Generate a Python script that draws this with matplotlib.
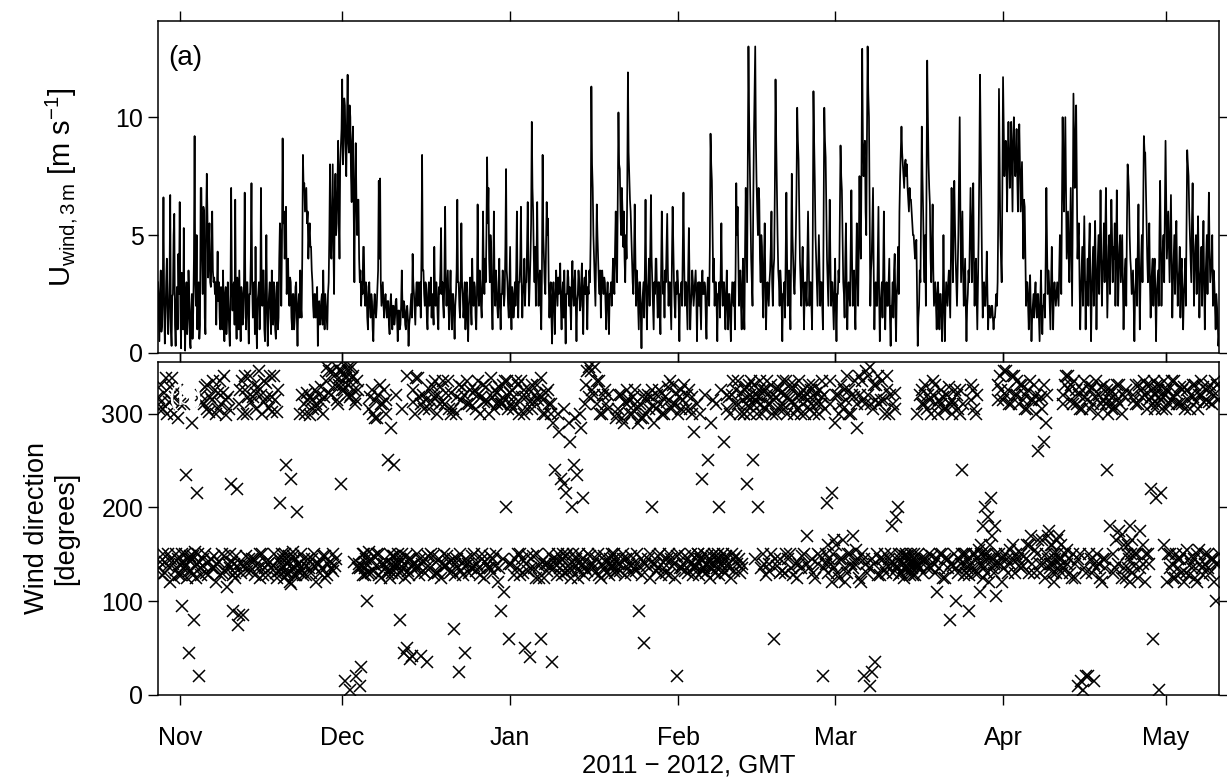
import numpy as np
import pandas as pd
import matplotlib
matplotlib.use("Agg")
import matplotlib.pyplot as plt
import matplotlib.dates as mdates


# first sample of the record, 3-hourly values after that
start = "2011-10-28 00:00"

# wind speed at 3 m [m/s], one row per day (00, 03, ... 21 GMT)
wind_speed = [
    [3.0, 1.8, 0.5, 2.6, 3.5, 0.9, 1.2, 2.8], [6.6, 2.2, 0.4, 1.5, 3.0, 4.0, 2.0, 0.8],  # Oct 28-29
    [1.5, 3.2, 6.7, 1.0, 0.3, 2.4, 2.5, 5.0], [5.9, 1.2, 0.3, 2.0, 2.8, 1.0, 4.2, 2.5],
    [6.4, 2.0, 0.2, 3.4, 2.5, 1.0, 5.3, 1.5], [0.1, 2.2, 3.0, 0.8, 1.5, 3.5, 2.5, 0.5],  # Nov 1-2
    [0.2, 1.8, 2.5, 0.6, 1.8, 4.0, 9.2, 3.0], [2.0, 5.0, 1.0, 2.8, 3.0, 0.6, 1.2, 7.0],
    [7.0, 4.0, 2.5, 6.2, 6.0, 1.5, 0.8, 5.5], [7.6, 5.8, 3.2, 4.5, 5.5, 3.0, 2.8, 4.0],
    [6.0, 3.5, 3.0, 3.2, 2.5, 3.0, 1.2, 2.8], [4.3, 2.2, 3.0, 1.5, 1.0, 2.8, 2.5, 1.0],
    [3.5, 1.8, 0.5, 2.5, 2.8, 0.8, 1.5, 3.0], [2.0, 1.0, 0.3, 2.5, 7.0, 3.0, 1.8, 2.8],
    [3.0, 1.2, 6.5, 2.0, 0.6, 3.2, 2.5, 1.0], [3.5, 2.0, 0.5, 2.8, 2.5, 1.2, 1.5, 3.2],
    [6.8, 2.5, 1.0, 3.0, 3.0, 1.5, 0.4, 2.5], [2.5, 4.0, 7.2, 3.0, 1.5, 2.8, 3.0, 0.8],
    [4.5, 1.5, 0.2, 2.2, 2.5, 3.0, 1.0, 2.0], [7.0, 3.0, 2.0, 3.5, 3.5, 1.0, 0.5, 2.5],
    [5.0, 2.0, 0.3, 1.8, 2.5, 3.0, 1.5, 0.8], [3.5, 2.0, 1.2, 3.0, 2.5, 1.0, 0.6, 2.8],
    [3.0, 1.0, 1.5, 4.0, 5.5, 5.0, 2.0, 4.5], [9.1, 5.5, 6.0, 4.0, 5.0, 6.2, 2.5, 3.5],
    [4.0, 2.5, 2.0, 3.2, 3.0, 1.5, 1.0, 2.5], [2.5, 1.0, 1.5, 2.8, 3.0, 1.5, 0.3, 2.0],
    [2.5, 1.5, 3.5, 2.0, 1.5, 4.0, 8.4, 7.0], [7.2, 6.0, 6.5, 7.0, 5.5, 6.0, 4.0, 5.0],
    [5.5, 4.5, 4.5, 3.5, 3.0, 2.0, 1.5, 2.5], [2.5, 1.5, 2.0, 2.8, 0.3, 1.8, 2.2, 1.2],
    [1.5, 2.2, 2.5, 1.2, 3.5, 2.0, 1.0, 2.5], [2.0, 1.5, 1.0, 2.5, 3.0, 5.0, 8.0, 4.5],
    [4.0, 6.0, 8.0, 4.5, 2.5, 6.5, 7.6, 5.0], [5.5, 7.0, 9.0, 6.0, 4.0, 8.0, 8.8, 9.5],  # Nov 29-30
    [11.6, 8.0, 9.0, 10.8, 10.5, 8.5, 7.5, 9.5], [11.8, 9.0, 8.5, 10.5, 10.0, 7.5, 6.4, 9.0],  # Dec 1-2
    [9.6, 6.0, 3.0, 7.0, 8.9, 6.5, 5.0, 6.5], [6.5, 4.0, 3.0, 3.5, 2.0, 3.0, 2.5, 4.5],
    [4.5, 2.5, 2.0, 3.0, 2.8, 1.5, 1.0, 2.5], [3.0, 2.0, 1.5, 2.5, 2.2, 1.0, 0.5, 2.0],
    [2.5, 1.8, 1.5, 2.0, 2.8, 3.5, 7.3, 4.0], [7.4, 3.0, 2.0, 2.5, 3.0, 2.0, 1.5, 2.2],
    [2.5, 2.0, 1.5, 2.2, 2.2, 1.2, 0.8, 2.0], [2.5, 1.8, 1.0, 2.0, 2.0, 1.2, 1.5, 2.2],
    [2.3, 1.5, 0.5, 1.8, 1.8, 1.0, 1.2, 2.0], [3.5, 2.0, 1.5, 2.2, 2.0, 1.2, 1.0, 1.8],
    [2.0, 1.5, 0.3, 1.2, 1.5, 2.0, 2.5, 1.5], [4.2, 3.0, 2.5, 1.8, 1.2, 2.5, 3.0, 2.0],
    [3.0, 2.2, 2.0, 3.0, 1.5, 4.0, 8.4, 3.5], [3.5, 2.5, 2.0, 3.0, 2.8, 1.5, 1.0, 2.5],
    [3.0, 2.0, 2.5, 3.2, 1.5, 2.5, 2.0, 1.2], [4.5, 2.5, 2.0, 3.0, 2.5, 1.5, 1.0, 2.8],
    [2.5, 3.5, 5.3, 2.5, 3.0, 2.0, 1.5, 3.5], [6.2, 3.0, 2.0, 2.8, 3.5, 2.0, 1.0, 2.5],
    [3.5, 2.0, 1.0, 2.5, 2.5, 1.5, 0.6, 2.0], [2.5, 3.5, 6.5, 3.0, 3.0, 2.0, 1.5, 3.0],
    [5.5, 3.0, 2.5, 1.5, 2.0, 3.0, 1.0, 2.5], [3.0, 1.5, 0.5, 2.0, 2.5, 3.2, 2.0, 1.2],
    [4.0, 2.5, 2.0, 3.0, 2.8, 1.5, 1.0, 2.5], [6.3, 3.0, 2.0, 3.5, 3.0, 2.0, 1.5, 3.0],
    [6.0, 3.5, 2.5, 4.0, 3.0, 5.0, 8.3, 5.5], [7.0, 4.0, 3.0, 5.0, 4.5, 2.0, 1.0, 3.0],
    [6.0, 3.0, 2.0, 3.5, 3.0, 2.0, 1.5, 2.5], [4.0, 2.0, 1.0, 2.5, 2.5, 3.5, 3.0, 2.0],
    [2.5, 4.5, 7.8, 3.5, 3.0, 2.0, 1.5, 3.0],                                              # Dec 31
    [4.5, 2.0, 1.0, 2.8, 2.5, 1.5, 2.0, 3.0], [2.0, 3.5, 6.0, 2.5, 1.5, 3.0, 3.0, 4.0],  # Jan 1-2
    [6.2, 3.0, 1.5, 2.5, 3.0, 4.0, 2.0, 3.0], [3.0, 4.5, 6.4, 3.5, 2.0, 3.0, 4.0, 5.5],
    [9.8, 7.0, 6.0, 4.0, 3.0, 4.5, 2.0, 4.0], [6.4, 3.5, 2.0, 3.0, 3.5, 2.0, 1.0, 3.5],
    [8.4, 5.0, 4.0, 3.0, 2.5, 4.5, 6.4, 5.0], [5.7, 3.0, 1.5, 2.5, 3.0, 1.5, 0.4, 2.5],
    [3.0, 2.0, 0.8, 2.5, 3.5, 2.8, 2.0, 3.2], [2.5, 3.0, 3.8, 2.0, 1.0, 2.5, 3.0, 1.5],
    [3.5, 2.0, 0.4, 2.5, 2.5, 3.5, 3.2, 2.0], [2.8, 2.0, 1.0, 3.0, 3.9, 2.5, 2.0, 3.0],
    [3.5, 2.0, 0.5, 2.2, 2.5, 3.5, 3.0, 1.8], [2.0, 3.0, 3.8, 2.0, 0.8, 2.8, 3.2, 2.5],
    [3.5, 2.5, 1.0, 2.8, 2.5, 3.5, 3.0, 5.0], [11.3, 8.0, 7.0, 5.0, 4.0, 3.0, 2.0, 4.0],
    [6.3, 5.0, 4.0, 3.0, 2.5, 3.5, 1.5, 3.0], [3.5, 3.0, 2.5, 3.2, 3.0, 2.0, 1.0, 2.5],
    [3.0, 2.0, 0.8, 2.5, 2.5, 3.0, 2.0, 3.0], [4.0, 3.0, 2.5, 4.5, 6.0, 4.0, 3.0, 6.5],
    [10.2, 8.0, 7.8, 6.0, 5.0, 7.0, 6.0, 4.5], [6.0, 4.0, 3.0, 5.0, 4.0, 7.0, 11.9, 8.5],
    [7.5, 6.5, 6.0, 5.0, 4.0, 3.0, 2.5, 4.0], [6.3, 4.0, 2.0, 3.5, 3.0, 2.0, 1.0, 3.0],
    [3.0, 1.5, 0.2, 2.0, 2.5, 3.0, 1.5, 3.5], [6.5, 3.0, 1.0, 2.5, 3.0, 4.0, 2.0, 4.5],
    [6.7, 4.0, 3.0, 2.0, 1.0, 3.0, 2.5, 4.0], [4.0, 2.5, 1.5, 3.0, 3.0, 2.0, 0.8, 3.5],
    [6.0, 4.0, 2.5, 3.0, 1.5, 3.5, 3.0, 4.5], [5.9, 3.5, 2.0, 3.0, 3.0, 2.0, 1.0, 4.0],
    [6.2, 4.5, 3.0, 2.0, 1.5, 3.0, 2.5, 3.5],                                              # Jan 31
    [3.0, 2.0, 0.5, 2.5, 2.5, 3.0, 2.0, 4.5], [6.8, 4.0, 2.0, 3.0, 3.0, 2.0, 1.0, 3.5],  # Feb 1-2
    [5.3, 3.0, 1.0, 2.0, 2.5, 3.5, 3.0, 2.0], [2.5, 3.0, 3.5, 2.5, 0.5, 2.5, 3.0, 2.0],
    [3.0, 2.0, 1.0, 2.8, 3.5, 2.5, 2.5, 3.0], [2.8, 1.5, 0.6, 2.5, 3.2, 2.5, 2.0, 4.5],
    [9.3, 8.0, 7.3, 5.0, 3.0, 4.0, 2.0, 3.0], [3.0, 2.0, 0.5, 2.5, 2.5, 3.0, 1.5, 3.5],
    [5.5, 3.0, 2.0, 3.0, 3.0, 2.0, 1.0, 2.5], [3.5, 2.0, 1.0, 2.5, 2.5, 1.5, 0.5, 2.0],
    [3.0, 2.5, 2.0, 3.0, 1.0, 3.5, 7.2, 5.0], [6.2, 4.0, 2.0, 3.0, 3.5, 2.0, 1.0, 3.0],
    [4.0, 2.0, 1.0, 4.5, 7.0, 5.0, 3.0, 8.0], [13.0, 10.0, 8.0, 6.0, 4.0, 3.0, 2.0, 6.0],
    [9.0, 11.0, 13.0, 9.0, 7.2, 6.0, 5.0, 7.0], [6.5, 4.0, 3.0, 5.0, 4.5, 2.5, 1.5, 4.0],
    [5.5, 3.0, 1.0, 2.5, 3.0, 2.5, 2.0, 3.0], [3.5, 4.5, 6.0, 3.0, 2.0, 3.5, 4.0, 7.0],
    [11.6, 9.0, 7.0, 5.0, 3.5, 3.0, 2.0, 3.5], [3.0, 2.0, 0.5, 2.5, 2.5, 3.0, 1.5, 4.0],
    [6.8, 4.0, 2.0, 3.0, 3.5, 2.5, 1.0, 4.0], [7.6, 5.0, 4.0, 3.0, 2.5, 3.5, 5.0, 7.0],
    [10.4, 9.0, 8.2, 6.0, 4.0, 3.0, 2.0, 3.5], [4.5, 3.0, 1.0, 2.5, 3.0, 2.5, 2.0, 4.0],
    [6.0, 4.0, 2.0, 3.0, 3.0, 2.0, 1.0, 5.0], [11.1, 9.0, 7.3, 5.0, 4.0, 3.0, 2.0, 3.5],
    [5.0, 3.5, 2.0, 3.0, 3.0, 2.0, 1.0, 5.5], [10.4, 9.0, 8.3, 6.0, 4.0, 3.0, 2.0, 4.0],
    [6.5, 4.0, 2.0, 3.0, 3.0, 2.0, 1.0, 2.5],                                              # Feb 29
    [4.0, 2.0, 0.5, 2.5, 2.5, 3.5, 3.0, 6.0], [8.8, 7.5, 6.9, 5.0, 3.0, 2.5, 1.5, 4.0],  # Mar 1-2
    [5.5, 3.0, 1.0, 2.5, 3.0, 2.5, 2.0, 4.5], [6.9, 4.0, 2.0, 3.0, 3.5, 2.0, 1.0, 3.5],
    [5.5, 3.5, 2.0, 4.5, 7.5, 5.0, 4.0, 8.0], [12.9, 9.0, 7.5, 8.5, 9.0, 6.0, 5.0, 9.0],
    [13.0, 11.0, 10.0, 6.0, 2.0, 3.5, 4.0, 5.5], [7.0, 3.5, 1.0, 2.5, 3.0, 2.0, 2.0, 4.0],
    [6.2, 2.5, 0.5, 2.0, 2.5, 3.0, 1.5, 3.5], [6.0, 3.0, 1.0, 2.5, 3.0, 2.0, 2.0, 3.0],
    [4.0, 1.5, 0.3, 2.0, 2.0, 3.0, 1.5, 3.5], [4.2, 2.0, 0.5, 2.5, 3.0, 4.5, 2.5, 6.0],
    [7.5, 8.5, 9.6, 8.5, 8.0, 7.5, 7.0, 8.0], [8.2, 7.5, 8.0, 7.0, 6.5, 6.0, 7.0, 6.5],
    [6.5, 6.0, 5.5, 5.0, 5.0, 4.5, 4.0, 4.5], [4.8, 2.5, 0.3, 1.5, 2.0, 3.5, 3.0, 6.0],
    [9.6, 7.5, 6.0, 4.0, 3.0, 5.0, 2.0, 7.0], [12.4, 10.0, 8.0, 7.0, 6.3, 4.0, 3.0, 4.5],
    [6.3, 3.5, 2.0, 2.5, 3.0, 2.0, 1.0, 2.5], [3.0, 2.0, 1.0, 2.5, 2.5, 1.5, 0.5, 2.0],
    [5.0, 2.5, 0.5, 2.0, 3.0, 2.5, 2.0, 3.0], [3.5, 2.5, 1.5, 4.0, 7.0, 5.0, 3.0, 5.5],
    [7.3, 5.5, 4.0, 3.0, 2.0, 3.5, 5.0, 7.5], [10.0, 6.0, 3.0, 4.5, 6.0, 3.5, 2.0, 3.0],
    [4.0, 2.0, 0.5, 2.0, 2.5, 3.5, 3.0, 5.0], [7.0, 5.0, 3.0, 5.5, 7.2, 4.0, 2.0, 3.5],
    [4.0, 2.5, 1.0, 3.0, 5.0, 8.0, 11.8, 9.0], [6.0, 3.5, 1.5, 2.5, 3.0, 2.0, 2.0, 3.0],
    [4.3, 2.5, 1.0, 2.0, 2.0, 1.5, 1.5, 2.0], [2.0, 1.5, 1.0, 1.5, 1.5, 2.0, 2.5, 2.0],
    [3.0, 6.0, 11.2, 8.0, 5.0, 4.0, 3.0, 7.0],                                             # Mar 31
    [11.7, 9.5, 7.5, 8.5, 9.0, 8.0, 6.0, 8.5], [9.8, 8.5, 7.0, 8.0, 9.8, 8.0, 6.0, 9.0],  # Apr 1-2
    [10.0, 8.5, 7.5, 8.0, 9.5, 7.5, 6.0, 8.5], [9.7, 8.0, 6.0, 7.0, 8.1, 6.0, 4.0, 6.5],
    [6.2, 4.0, 2.0, 3.0, 3.0, 2.0, 1.0, 2.5], [3.3, 2.0, 0.5, 1.5, 2.0, 2.5, 1.5, 2.5],
    [3.0, 2.0, 1.5, 2.5, 2.5, 1.5, 0.5, 2.0], [3.5, 2.0, 0.8, 2.0, 2.0, 2.5, 1.5, 4.0],
    [7.0, 4.5, 2.5, 3.5, 3.0, 2.0, 1.0, 3.0], [4.5, 2.5, 1.0, 2.5, 3.0, 2.5, 2.0, 2.5],
    [3.0, 2.5, 2.0, 3.5, 5.0, 4.0, 2.5, 6.0], [10.0, 7.5, 6.0, 8.0, 10.0, 7.0, 4.0, 5.0],
    [6.0, 4.0, 3.0, 5.0, 7.0, 4.5, 2.0, 6.0], [11.0, 9.0, 7.0, 9.0, 10.5, 7.0, 4.0, 5.0],
    [5.5, 3.0, 1.0, 2.5, 3.5, 4.5, 2.0, 4.0], [5.8, 3.5, 1.0, 3.0, 3.0, 4.0, 2.0, 4.5],
    [5.5, 3.0, 0.5, 2.5, 3.5, 4.5, 2.0, 4.0], [5.6, 3.5, 1.0, 3.0, 4.0, 5.0, 2.5, 4.5],
    [6.9, 4.5, 2.0, 3.5, 4.0, 5.5, 3.0, 5.0], [7.0, 4.0, 1.5, 3.0, 4.5, 5.0, 2.5, 4.5],
    [6.5, 5.0, 3.0, 4.5, 4.0, 5.5, 2.0, 4.0], [6.9, 4.5, 2.0, 3.5, 4.5, 5.0, 3.0, 4.0],
    [5.0, 3.0, 1.0, 2.5, 3.5, 4.0, 2.0, 5.5], [8.0, 7.5, 6.8, 5.0, 4.0, 3.5, 2.5, 3.0],
    [3.5, 2.0, 0.5, 2.5, 3.0, 4.0, 2.0, 4.5], [6.3, 3.5, 1.0, 3.0, 4.0, 5.0, 3.0, 6.0],
    [9.2, 8.5, 8.5, 7.0, 5.5, 4.0, 3.0, 4.0], [5.5, 3.0, 1.5, 3.0, 3.5, 4.0, 2.0, 3.5],
    [4.0, 2.5, 0.5, 2.5, 3.0, 3.5, 2.0, 5.0], [7.3, 4.5, 2.0, 3.5, 4.5, 5.0, 3.0, 6.0],  # Apr 29-30
    [9.0, 6.5, 4.0, 5.0, 6.0, 4.5, 3.0, 5.0], [6.7, 4.0, 1.5, 3.0, 4.0, 5.0, 2.5, 4.5],  # May 1-2
    [5.6, 3.5, 2.0, 3.0, 3.5, 4.5, 1.5, 3.5], [4.0, 2.5, 1.0, 2.5, 3.0, 4.0, 2.0, 5.5],
    [8.6, 8.0, 7.5, 6.0, 5.0, 4.0, 3.0, 5.5], [7.2, 4.5, 2.0, 3.5, 4.5, 5.0, 2.5, 4.0],
    [5.8, 3.5, 1.5, 3.0, 3.5, 4.5, 2.0, 4.0], [5.6, 3.0, 1.0, 3.0, 4.0, 5.0, 2.5, 4.5],
    [6.8, 4.5, 3.0, 3.5, 4.0, 5.0, 2.0, 3.5], [3.0, 2.0, 1.0, 2.5, 2.0, 1.5, 0.3, 0.8],  # May 9-10
]

# wind direction [degrees], same times as wind_speed
wind_dir = [
    [318, 305, 135, 142, 330, 312, 128, 150], [305, 322, 142, 130, 338, 300, 150, 138],  # Oct 28-29
    [312, 328, 120, 145, 338, 315, 140, 125], [300, 318, 133, 150, 325, 295, 145, 128],
    [140, 310, 128, 150, 95, 135, 310, 142], [150, 138, 235, 125, 145, 45, 132, 148],      # Nov 1-2
    [132, 145, 290, 128, 148, 80, 138, 152], [125, 140, 215, 150, 142, 20, 135, 128],
    [320, 312, 138, 145, 310, 328, 150, 130], [330, 305, 128, 142, 302, 318, 145, 135],
    [315, 335, 135, 148, 325, 300, 120, 140], [305, 322, 142, 128, 335, 310, 130, 150],
    [322, 340, 148, 132, 298, 315, 115, 140], [318, 305, 135, 150, 225, 142, 90, 128],
    [140, 130, 125, 148, 220, 138, 75, 85], [310, 325, 130, 140, 335, 300, 85, 138],
    [325, 340, 148, 132, 300, 318, 138, 145], [340, 312, 132, 145, 318, 330, 145, 128],
    [305, 322, 140, 135, 328, 345, 125, 150], [320, 300, 150, 128, 312, 335, 135, 142],
    [333, 318, 128, 140, 306, 340, 142, 135], [318, 302, 137, 150, 340, 315, 130, 125],
    [302, 325, 145, 132, 205, 140, 133, 150], [138, 145, 125, 132, 150, 245, 128, 140],
    [130, 148, 142, 120, 118, 230, 135, 152], [148, 128, 135, 145, 128, 195, 140, 132],
    [140, 135, 300, 150, 132, 320, 128, 145], [310, 300, 138, 128, 322, 315, 145, 135],
    [298, 318, 130, 145, 315, 305, 150, 138], [325, 310, 120, 140, 305, 320, 140, 130],
    [312, 328, 135, 148, 300, 318, 148, 125], [335, 350, 128, 140, 345, 322, 142, 135],
    [320, 345, 150, 132, 340, 330, 138, 145], [350, 315, 310, 338, 330, 345, 225, 325],  # Nov 29-30
    [345, 330, 325, 352, 15, 338, 340, 320], [330, 345, 350, 318, 5, 320, 338, 350],      # Dec 1-2
    [340, 325, 142, 310, 20, 315, 335, 135], [325, 140, 135, 10, 30, 138, 150, 128],
    [150, 135, 128, 145, 140, 100, 130, 152], [305, 318, 145, 130, 325, 300, 132, 148],
    [315, 295, 138, 150, 295, 320, 150, 128], [330, 310, 125, 140, 310, 325, 140, 135],
    [300, 315, 142, 130, 250, 133, 150, 125], [285, 140, 130, 148, 148, 245, 135, 140],
    [320, 138, 150, 128, 140, 80, 145, 132], [305, 150, 135, 140, 45, 125, 148, 50],
    [340, 132, 145, 128, 38, 145, 138, 42], [325, 312, 140, 135, 300, 338, 135, 150],
    [338, 318, 128, 145, 310, 42, 140, 132], [320, 305, 145, 130, 315, 35, 148, 138],
    [305, 325, 135, 150, 330, 312, 148, 128], [318, 335, 142, 130, 300, 320, 130, 145],
    [328, 310, 125, 140, 312, 335, 150, 138], [310, 322, 138, 148, 335, 305, 142, 130],
    [322, 300, 132, 145, 305, 70, 128, 140], [300, 318, 145, 135, 330, 25, 150, 132],
    [315, 328, 128, 142, 320, 45, 138, 145], [335, 310, 140, 130, 310, 325, 135, 148],
    [308, 322, 150, 138, 325, 305, 132, 140], [320, 335, 135, 128, 300, 318, 145, 150],
    [330, 312, 125, 142, 315, 328, 140, 135], [312, 300, 148, 135, 338, 318, 130, 145],
    [305, 325, 138, 150, 322, 310, 120, 135], [328, 315, 90, 310, 310, 330, 145, 110],
    [315, 335, 200, 320, 335, 305, 60, 140],                                               # Dec 31
    [322, 310, 140, 325, 305, 318, 128, 145], [310, 335, 135, 150, 330, 300, 150, 128],  # Jan 1-2
    [335, 318, 145, 130, 300, 325, 50, 140], [318, 305, 132, 148, 325, 312, 40, 135],
    [305, 330, 148, 135, 312, 320, 125, 150], [330, 315, 138, 125, 320, 338, 60, 142],
    [315, 300, 125, 140, 300, 322, 140, 132], [325, 310, 150, 138, 310, 300, 35, 145],
    [290, 135, 140, 240, 145, 128, 300, 150], [280, 142, 135, 230, 128, 145, 150, 225],
    [305, 130, 148, 215, 150, 138, 132, 290], [270, 140, 125, 200, 133, 150, 140, 245],
    [295, 145, 138, 235, 125, 132, 150, 300], [285, 138, 145, 210, 140, 128, 135, 310],
    [330, 345, 132, 150, 350, 318, 148, 140], [345, 325, 140, 135, 320, 350, 130, 145],
    [310, 335, 150, 128, 335, 300, 125, 140], [300, 320, 135, 148, 325, 310, 142, 130],
    [320, 305, 128, 140, 145, 138, 138, 150], [138, 150, 145, 130, 295, 132, 300, 140],
    [305, 320, 140, 132, 320, 295, 145, 150], [290, 312, 128, 145, 310, 325, 135, 140],
    [315, 300, 148, 130, 300, 318, 140, 135], [325, 310, 132, 150, 305, 290, 90, 138],
    [310, 295, 145, 128, 295, 320, 55, 140], [300, 315, 138, 145, 320, 305, 125, 150],
    [318, 325, 200, 140, 308, 290, 140, 132], [305, 320, 135, 148, 325, 310, 150, 128],
    [322, 300, 142, 135, 300, 318, 130, 145], [312, 328, 128, 150, 335, 305, 145, 138],
    [330, 310, 140, 125, 310, 322, 20, 148],                                               # Jan 31
    [300, 318, 150, 135, 325, 305, 135, 140], [315, 330, 132, 148, 305, 320, 145, 130],  # Feb 1-2
    [325, 305, 140, 150, 318, 300, 128, 138], [280, 135, 138, 145, 310, 150, 150, 128],
    [300, 145, 145, 132, 230, 135, 135, 150], [320, 140, 130, 148, 250, 138, 142, 125],
    [290, 135, 148, 140, 315, 150, 138, 130], [310, 145, 135, 150, 200, 128, 145, 140],
    [325, 138, 150, 132, 270, 145, 130, 148], [305, 320, 140, 135, 318, 300, 125, 150],
    [320, 335, 132, 145, 310, 325, 148, 140], [335, 310, 145, 130, 300, 322, 140, 135],
    [315, 300, 300, 325, 328, 310, 225, 318], [308, 330, 320, 300, 335, 318, 250, 310],
    [330, 315, 145, 320, 312, 300, 200, 325], [318, 335, 135, 310, 300, 325, 150, 140],
    [325, 305, 128, 320, 335, 310, 140, 132], [310, 330, 150, 300, 320, 315, 60, 145],
    [300, 318, 138, 325, 328, 305, 145, 130], [322, 310, 132, 335, 305, 320, 130, 150],
    [335, 300, 145, 318, 315, 330, 150, 135], [312, 325, 128, 300, 330, 310, 140, 125],
    [305, 320, 140, 335, 320, 300, 135, 148], [325, 310, 150, 318, 300, 322, 170, 140],
    [315, 330, 135, 305, 310, 325, 145, 130], [330, 300, 125, 318, 322, 310, 140, 150],
    [300, 325, 148, 310, 318, 335, 20, 135], [320, 305, 150, 140, 205, 160, 130, 145],
    [310, 335, 140, 120, 215, 150, 165, 135],                                              # Feb 29
    [290, 320, 160, 130, 320, 300, 125, 145], [330, 310, 145, 165, 305, 325, 135, 120],  # Mar 1-2
    [315, 340, 130, 150, 325, 300, 150, 140], [300, 320, 170, 135, 318, 335, 140, 155],
    [285, 310, 145, 125, 340, 320, 120, 150], [335, 315, 20, 145, 310, 345, 140, 130],
    [320, 340, 135, 10, 350, 310, 145, 25], [305, 330, 140, 35, 330, 315, 150, 128],
    [340, 310, 128, 145, 315, 335, 145, 135], [315, 300, 150, 130, 325, 340, 138, 145],
    [300, 320, 140, 150, 180, 310, 130, 140], [322, 305, 190, 135, 138, 200, 150, 128],
    [145, 130, 130, 150, 140, 135, 125, 148], [138, 150, 148, 135, 132, 145, 140, 128],
    [150, 140, 135, 128, 145, 150, 128, 138], [142, 300, 138, 150, 138, 320, 135, 145],
    [325, 310, 130, 145, 310, 330, 145, 135], [305, 320, 150, 138, 315, 300, 135, 148],
    [320, 335, 140, 130, 330, 310, 110, 145], [300, 315, 135, 150, 310, 325, 150, 125],
    [318, 305, 125, 145, 305, 320, 145, 135], [328, 310, 80, 140, 300, 315, 138, 150],
    [310, 325, 100, 135, 320, 305, 130, 145], [325, 300, 140, 150, 240, 310, 150, 128],
    [140, 150, 130, 135, 145, 128, 90, 140], [315, 330, 135, 150, 325, 305, 150, 130],
    [300, 320, 145, 130, 155, 140, 110, 150], [160, 140, 180, 125, 135, 150, 200, 145],
    [150, 130, 190, 145, 120, 160, 210, 135], [170, 145, 140, 130, 180, 150, 105, 140],
    [330, 315, 150, 140, 340, 325, 120, 145],                                              # Mar 31
    [315, 345, 135, 150, 345, 320, 145, 130], [325, 310, 140, 155, 310, 340, 160, 145],  # Apr 1-2
    [340, 320, 130, 150, 320, 335, 145, 138], [310, 330, 150, 135, 330, 315, 138, 148],
    [320, 305, 145, 160, 305, 325, 160, 130], [335, 315, 170, 140, 315, 330, 130, 155],
    [300, 320, 150, 165, 260, 315, 140, 130], [318, 305, 165, 140, 270, 330, 125, 150],
    [290, 320, 145, 170, 175, 140, 135, 160], [140, 160, 130, 150, 120, 145, 130, 165],
    [150, 135, 170, 145, 138, 160, 145, 130], [320, 310, 135, 150, 330, 340, 155, 140],
    [340, 325, 145, 130, 315, 330, 125, 150], [310, 335, 140, 125, 325, 310, 10, 145],
    [320, 305, 150, 15, 305, 325, 5, 135], [335, 318, 130, 20, 315, 330, 20, 150],
    [305, 325, 145, 130, 328, 310, 15, 140], [318, 335, 135, 150, 300, 320, 140, 125],
    [328, 310, 120, 145, 315, 330, 145, 135], [310, 325, 240, 300, 320, 315, 180, 310],
    [325, 305, 150, 130, 305, 320, 135, 165], [315, 330, 140, 175, 330, 310, 170, 125],
    [300, 320, 160, 135, 318, 325, 125, 150], [160, 135, 145, 120, 180, 150, 130, 165],
    [320, 315, 138, 150, 330, 310, 150, 125], [310, 330, 175, 135, 325, 318, 140, 160],
    [335, 320, 120, 150, 305, 330, 150, 140], [315, 330, 220, 318, 325, 310, 60, 335],
    [320, 305, 210, 330, 310, 325, 5, 318], [330, 315, 215, 305, 318, 335, 160, 320],    # Apr 29-30
    [305, 325, 120, 150, 325, 310, 150, 135], [315, 335, 140, 125, 335, 318, 125, 150],  # May 1-2
    [322, 310, 135, 145, 310, 328, 145, 130], [310, 325, 150, 120, 328, 305, 130, 155],
    [325, 315, 128, 145, 305, 320, 140, 135], [318, 330, 145, 125, 330, 312, 120, 150],
    [305, 320, 155, 140, 320, 335, 135, 128], [328, 312, 140, 150, 315, 325, 150, 135],
    [312, 330, 130, 145, 325, 310, 145, 120], [320, 335, 100, 140, 330, 315, 140, 150],  # May 9-10
]

speed_ticks = [0, 5, 10]
dir_ticks = [0, 100, 200, 300]


def main():
    plt.rcParams['font.family'] = ['Liberation Sans', 'DejaVu Sans']
    plt.rcParams['mathtext.fontset'] = 'custom'
    plt.rcParams['mathtext.rm'] = 'Liberation Sans'
    plt.rcParams['mathtext.it'] = 'Liberation Sans'
    plt.rcParams['font.size'] = 18

    speed = np.array(wind_speed).ravel()
    direction = np.array(wind_dir).ravel()
    times = pd.date_range(start, periods=len(speed), freq="3h")

    fig = plt.figure(figsize=(12.27, 7.83), dpi=100)
    ax1 = fig.add_axes([0.1288, 0.5492, 0.8647, 0.4246])
    ax2 = fig.add_axes([0.1288, 0.1124, 0.8647, 0.4253])

    # (a) wind speed
    ax1.plot(times, speed, color="black", lw=1.25)
    ax1.set_ylim(0, 14.1)
    ax1.set_yticks(speed_ticks)
    ax1.set_ylabel(r"U$_{\mathrm{wind,3\,m}}$ [m s$^{-1}$]", fontsize=21)
    ax1.text(0.01, 0.925, "(a)", transform=ax1.transAxes, va="top", ha="left",
             fontsize=20)

    # (b) wind direction
    ax2.plot(times, direction, "x", color="black", ms=8.5, mew=1.1)
    ax2.set_ylim(0, 355)
    ax2.set_yticks(dir_ticks)
    ax2.set_ylabel("Wind direction\n[degrees]", fontsize=19.5)
    ax2.text(0.01, 0.93, "(b)", transform=ax2.transAxes, va="top", ha="left",
             color="white", fontsize=20)
    ax2.set_xlabel("2011 \u2212 2012, GMT", fontsize=18.5, labelpad=3)

    for ax in (ax1, ax2):
        ax.set_xlim(times[0], times[-1])
        ax.xaxis.set_major_locator(mdates.MonthLocator())
        ax.xaxis.set_major_formatter(mdates.DateFormatter("%b"))
        ax.tick_params(direction="out", length=7, width=1.0, pad=3.5,
                       top=True, right=True)
        ax.tick_params(axis="x", pad=15)
        for spine in ax.spines.values():
            spine.set_linewidth(1.1)
        ax.yaxis.set_label_coords(-0.074, 0.5)
    ax1.tick_params(labelbottom=False)

    fig.savefig("out.png", dpi=100)


if __name__ == "__main__":
    main()
